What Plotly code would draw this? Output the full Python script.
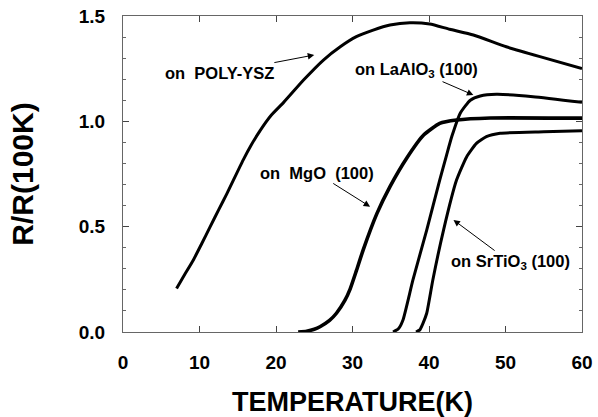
import plotly.graph_objects as go

# ---- data ----
poly_T = [7.0, 8.1, 9.2, 10.3, 11.4, 12.5, 13.6, 15.7, 16.8, 17.9, 19.4, 21.0, 23.6, 26.2, 28.4, 30.5, 32.7, 34.9, 37.5, 40.1, 42.7, 45.8, 50.1, 54.5, 60.0]
poly_R = [0.207, 0.275, 0.342, 0.42, 0.50, 0.58, 0.658, 0.816, 0.89, 0.955, 1.03, 1.09, 1.196, 1.291, 1.354, 1.402, 1.433, 1.457, 1.468, 1.462, 1.437, 1.41, 1.354, 1.307, 1.251]

mgo_T = [22.9, 24.0, 25.0, 25.75, 27.0, 27.9, 29.0, 29.7, 30.5, 31.4, 33.2, 34.9, 37.1, 39.3, 41.4, 43.6, 48.0, 60.0]
mgo_R = [0.0, 0.004, 0.013, 0.025, 0.055, 0.089, 0.15, 0.205, 0.29, 0.39, 0.563, 0.69, 0.826, 0.935, 0.99, 1.006, 1.016, 1.015]

lao_T = [35.3, 36.0, 36.6, 37.9, 39.7, 41.4, 42.3, 43.0, 44.1, 45.4, 46.7, 48.8, 53.6, 60.0]
lao_R = [0.0, 0.015, 0.057, 0.247, 0.484, 0.721, 0.84, 0.93, 1.04, 1.10, 1.12, 1.128, 1.117, 1.09]

sto_T = [38.3, 38.8, 39.2, 39.7, 40.5, 41.9, 43.6, 44.9, 46.2, 47.5, 49.3, 55.0, 60.0]
sto_R = [0.0, 0.01, 0.04, 0.089, 0.247, 0.484, 0.721, 0.83, 0.895, 0.927, 0.943, 0.95, 0.955]

x_ticks = [0, 10, 20, 30, 40, 50, 60]
x_ticktext = ["0", "10", "20", "30", "40", "50", "60"]
y_ticks = [0.0, 0.5, 1.0, 1.5]
y_ticktext = ["0.0", "0.5", "1.0", "1.5"]

FONT = "Arial, Liberation Sans, Helvetica, sans-serif"

fig = go.Figure()
for T, R, w in [(poly_T, poly_R, 3), (mgo_T, mgo_R, 3.6), (lao_T, lao_R, 3), (sto_T, sto_R, 3)]:
    fig.add_trace(go.Scatter(x=T, y=R, mode="lines",
                             line=dict(color="black", width=w, shape="spline", smoothing=0.5),
                             showlegend=False, hoverinfo="skip"))

# labels: (text, text centre T, text centre R, arrow head T, arrow head R)
labels = [
    ("on  POLY-YSZ", 12.6, 1.229, 25.0, 1.315),
    ("on LaAlO<sub>3</sub> (100)", 38.3, 1.243, 45.8, 1.125),
    ("on  MgO  (100)", 25.3, 0.755, 32.3, 0.595),
    ("on SrTiO<sub>3</sub> (100)", 50.6, 0.332, 43.2, 0.532),
]
for txt, tx, ty, hx, hy in labels:
    fig.add_annotation(x=hx, y=hy, ax=tx, ay=ty, xref="x", yref="y", axref="x", ayref="y",
                       text=txt, showarrow=True, arrowhead=2, arrowsize=1.3, arrowwidth=1,
                       arrowcolor="black", standoff=0,
                       font=dict(family=FONT, size=16.5, color="black", weight="bold"))

fig.update_xaxes(range=[0, 60], tickvals=x_ticks, ticktext=x_ticktext, automargin=False,
                 ticks="inside", ticklen=6, tickcolor="#444", showgrid=False, zeroline=False,
                 showline=True, linecolor="#666", linewidth=1, mirror="ticks",
                 tickfont=dict(family=FONT, size=19, color="black", weight="bold"), ticklabelstandoff=13,
                 title=dict(text="<b>TEMPERATURE(K)</b>", font=dict(family=FONT, size=27, color="black"), standoff=24))
fig.update_yaxes(range=[0, 1.5], tickvals=y_ticks, ticktext=y_ticktext, automargin=False,
                 ticks="inside", ticklen=6, tickcolor="#444", showgrid=False, zeroline=False,
                 showline=True, linecolor="#666", linewidth=1, mirror="ticks",
                 minor=dict(dtick=0.1, ticks="inside", ticklen=3, tickcolor="#666"),
                 tickfont=dict(family=FONT, size=19, color="black", weight="bold"), ticklabelstandoff=13,
                 title=dict(text="<b>R/R(100K)</b>", font=dict(family=FONT, size=30, color="black"), standoff=36))

fig.update_layout(width=598, height=417, margin=dict(l=123, r=16, t=16, b=85, autoexpand=False),
                  plot_bgcolor="white", paper_bgcolor="white",
                  font=dict(family=FONT, color="black"))

fig.write_html("out.html", config={"displayModeBar": False},
               post_script="document.body.style.margin='0';document.body.style.overflow='hidden';")
